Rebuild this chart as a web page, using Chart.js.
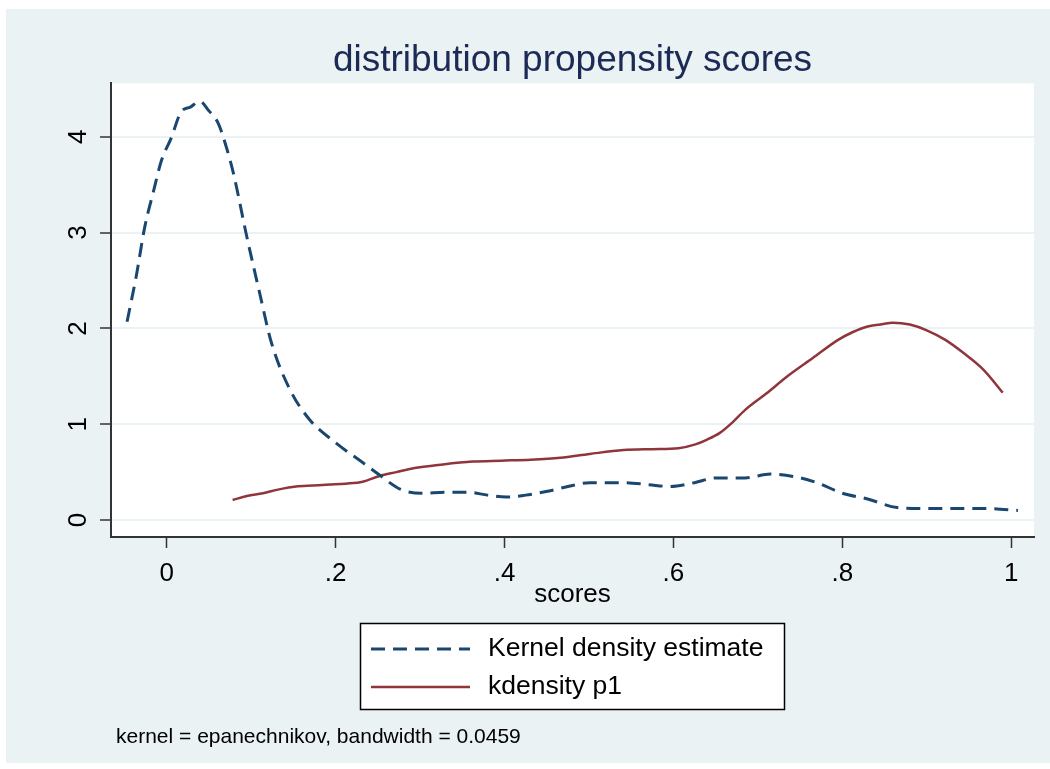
<!DOCTYPE html>
<html>
<head>
<meta charset="utf-8">
<script src="https://cdn.jsdelivr.net/npm/chart.js@4"></script>
<style>
  body { margin: 0; background: #ffffff; }
  canvas { display: block; }
</style>
</head>
<body>
<canvas id="kd" width="1050" height="769"></canvas>
<script>
// dashed curve: "Kernel density estimate"
const kdeX = [-0.047, -0.036, -0.026, -0.016, -0.006, 0.005, 0.017, 0.028, 0.039, 0.050,
              0.061, 0.071, 0.080, 0.094, 0.110, 0.124, 0.146, 0.169, 0.201, 0.232,
              0.252, 0.277, 0.302, 0.330, 0.357, 0.380, 0.402, 0.425, 0.451, 0.475,
              0.501, 0.541, 0.570, 0.596, 0.625, 0.651, 0.685, 0.715, 0.745, 0.770,
              0.800, 0.830, 0.865, 0.899, 0.940, 0.974, 1.008];
const kdeY = [2.07, 2.55, 3.06, 3.42, 3.76, 3.98, 4.26, 4.31, 4.37, 4.27,
              4.14, 3.88, 3.58, 2.99, 2.37, 1.85, 1.36, 1.05, 0.80, 0.60,
              0.47, 0.32, 0.28, 0.29, 0.29, 0.26, 0.24, 0.26, 0.30, 0.35,
              0.39, 0.39, 0.37, 0.35, 0.39, 0.44, 0.44, 0.48, 0.45, 0.39,
              0.28, 0.22, 0.13, 0.12, 0.12, 0.12, 0.10];

// solid curve: "kdensity p1"
const p1X = [0.078, 0.095, 0.114, 0.133, 0.153, 0.173, 0.193, 0.212, 0.232, 0.252,
             0.272, 0.292, 0.327, 0.362, 0.396, 0.431, 0.466, 0.501, 0.541, 0.575,
             0.606, 0.626, 0.640, 0.655, 0.670, 0.685, 0.710, 0.735, 0.765, 0.795,
             0.812, 0.830, 0.845, 0.860, 0.880, 0.900, 0.922, 0.944, 0.967, 0.990];
const p1Y = [0.21, 0.25, 0.28, 0.32, 0.35, 0.36, 0.37, 0.38, 0.40, 0.46,
             0.50, 0.54, 0.58, 0.61, 0.62, 0.63, 0.65, 0.69, 0.73, 0.74,
             0.75, 0.79, 0.84, 0.91, 1.02, 1.15, 1.32, 1.50, 1.69, 1.88,
             1.96, 2.02, 2.04, 2.06, 2.04, 1.98, 1.88, 1.74, 1.57, 1.33];

const seriesLabels = ['Kernel density estimate', 'kdensity p1'];
const xTickValues = [0, 0.2, 0.4, 0.6, 0.8, 1];
const xTickLabels = ['0', '.2', '.4', '.6', '.8', '1'];
const yTickValues = [0, 1, 2, 3, 4];
const yTickLabels = ['0', '1', '2', '3', '4'];
const titleText = 'distribution propensity scores';
const xAxisTitle = 'scores';
const noteText = 'kernel = epanechnikov, bandwidth = 0.0459';

const FONT = '"Liberation Sans", Arial, sans-serif';
const BG = '#eaf2f3';

const toPoints = (xs, ys) => xs.map((x, i) => ({ x: x, y: ys[i] }));

// paints the outer frame and the white plot region
const backdrop = {
    id: 'backdrop',
    beforeDraw(chart) {
        const { ctx, chartArea: a } = chart;
        ctx.save();
        ctx.fillStyle = BG;
        ctx.fillRect(6, 9, chart.width - 6, 754);
        ctx.fillStyle = '#ffffff';
        ctx.fillRect(a.left, a.top, a.right - a.left, a.bottom - a.top);
        ctx.restore();
    }
};

// Stata-like boxed legend plus the note line under it
const boxLegend = {
    id: 'boxLegend',
    afterDraw(chart) {
        const ctx = chart.ctx;
        ctx.save();
        ctx.fillStyle = '#ffffff';
        ctx.fillRect(360, 623, 425, 87);
        ctx.strokeStyle = '#000000';
        ctx.lineWidth = 1.5;
        ctx.strokeRect(360.5, 623.5, 424, 86);

        chart.data.datasets.forEach((ds, i) => {
            const y = 649 + i * 38;
            ctx.strokeStyle = ds.borderColor;
            ctx.lineWidth = ds.borderWidth;
            ctx.setLineDash(ds.borderDash || []);
            ctx.beginPath();
            ctx.moveTo(371, y);
            ctx.lineTo(470, y);
            ctx.stroke();
            ctx.setLineDash([]);
            ctx.fillStyle = '#000000';
            ctx.font = '26.5px ' + FONT;
            ctx.textBaseline = 'middle';
            ctx.textAlign = 'left';
            ctx.fillText(ds.label, 488, y);
        });

        ctx.font = '21px ' + FONT;
        ctx.fillStyle = '#000000';
        ctx.textBaseline = 'middle';
        ctx.fillText(noteText, 116, 737);
        ctx.restore();
    }
};

const ctx = document.getElementById('kd').getContext('2d');

new Chart(ctx, {
    type: 'line',
    data: {
        datasets: [{
            label: seriesLabels[0],
            data: toPoints(kdeX, kdeY),
            borderColor: '#1a476f',
            borderWidth: 3,
            borderDash: [14, 8],
            cubicInterpolationMode: 'monotone',
            pointRadius: 0,
            fill: false
        }, {
            label: seriesLabels[1],
            data: toPoints(p1X, p1Y),
            borderColor: '#90353b',
            borderWidth: 2.5,
            cubicInterpolationMode: 'monotone',
            pointRadius: 0,
            fill: false
        }]
    },
    options: {
        responsive: false,
        animation: false,
        layout: { padding: { top: 0, left: 0, right: 16, bottom: 159 } },
        plugins: {
            legend: { display: false },
            tooltip: { enabled: false },
            title: {
                display: true,
                text: titleText,
                fullSize: false,
                color: '#1c2a56',
                font: { family: FONT, size: 37, weight: 'normal' },
                padding: { top: 39, bottom: 0 }
            }
        },
        scales: {
            x: {
                type: 'linear',
                min: -0.066,
                max: 1.027,
                afterBuildTicks: (scale) => { scale.ticks = xTickValues.map(v => ({ value: v })); },
                afterFit: (scale) => { scale.height = 73; },
                ticks: {
                    callback: (value, index) => xTickLabels[index],
                    color: '#000000',
                    font: { family: FONT, size: 26 },
                    padding: 10,
                    maxRotation: 0
                },
                grid: {
                    drawOnChartArea: false,
                    drawTicks: true,
                    tickLength: 11,
                    tickColor: '#333333',
                    tickWidth: 1.5
                },
                border: { display: true, color: '#333333', width: 2 },
                title: {
                    display: true,
                    text: xAxisTitle,
                    color: '#000000',
                    font: { family: FONT, size: 26 },
                    padding: 0
                }
            },
            y: {
                type: 'linear',
                min: -0.177,
                max: 4.557,
                afterBuildTicks: (scale) => { scale.ticks = yTickValues.map(v => ({ value: v })); },
                afterFit: (scale) => { scale.width = 111; },
                ticks: {
                    callback: (value, index) => yTickLabels[index],
                    color: '#000000',
                    font: { family: FONT, size: 26 },
                    minRotation: 90,
                    maxRotation: 90,
                    crossAlign: 'center',
                    padding: 14
                },
                grid: {
                    color: BG,
                    lineWidth: 2,
                    drawTicks: true,
                    tickLength: 11,
                    tickColor: '#333333',
                    tickWidth: 1.5
                },
                border: { display: true, color: '#333333', width: 2 }
            }
        }
    },
    plugins: [backdrop, boxLegend]
});
</script>
</body>
</html>
